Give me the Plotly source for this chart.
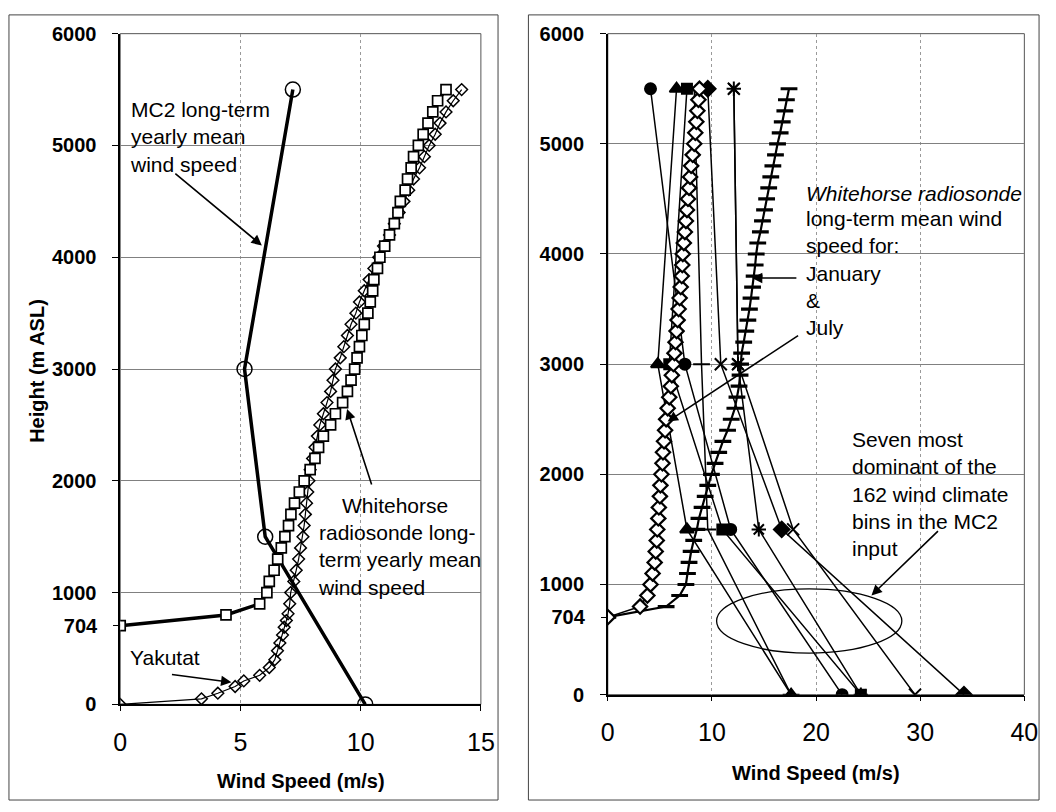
import plotly.graph_objects as go

W, H = 1056, 812
FONT = "Liberation Sans, Arial, sans-serif"

# ---------------- Left panel data ----------------
mc2_speed = [7.18, 5.17, 6.03, 10.19]
mc2_height = [5500, 3000, 1500, 0]

wh_height = [704, 800, 900, 1000, 1100, 1200, 1300, 1400, 1500, 1600, 1700, 1800, 1900,
             2000, 2100, 2200, 2300, 2400, 2500, 2600, 2700, 2800, 2900, 3000, 3100, 3200,
             3300, 3400, 3500, 3600, 3700, 3800, 3900, 4000, 4100, 4200, 4300, 4400, 4500,
             4600, 4700, 4800, 4900, 5000, 5100, 5200, 5300, 5400, 5500]
wh_year_speed = [0, 4.4, 5.8, 6.1, 6.2, 6.4, 6.55, 6.7, 6.85, 7.0, 7.1, 7.25, 7.45,
                 7.65, 7.9, 8.1, 8.25, 8.45, 8.75, 8.95, 9.25, 9.45, 9.6, 9.75, 9.85, 9.95,
                 10.05, 10.15, 10.3, 10.4, 10.5, 10.55, 10.7, 10.8, 11.0, 11.2, 11.4, 11.55, 11.65,
                 11.85, 11.95, 12.1, 12.2, 12.4, 12.6, 12.8, 13.0, 13.2, 13.55]

yak_height = [0, 50, 100, 160, 210, 260, 330, 400, 480, 550, 620, 690, 750, 810, 900,
              1000, 1100, 1200, 1300, 1400, 1500, 1600, 1700, 1800, 1900, 2000, 2100, 2200,
              2300, 2400, 2500, 2600, 2700, 2800, 2900, 3000, 3100, 3200, 3300, 3400, 3500,
              3600, 3700, 3800, 3900, 4000, 4100, 4200, 4300, 4400, 4500, 4600, 4700, 4800,
              4900, 5000, 5100, 5200, 5300, 5400, 5500]
yak_speed = [0, 3.38, 4.06, 4.78, 5.14, 5.8, 6.2, 6.43, 6.54, 6.64, 6.75, 6.82, 6.91, 6.98, 7.05,
             7.09, 7.22, 7.32, 7.42, 7.5, 7.6, 7.65, 7.7, 7.75, 7.8, 7.85, 7.9, 8.0,
             8.1, 8.2, 8.3, 8.45, 8.6, 8.75, 8.85, 8.95, 9.15, 9.3, 9.45, 9.6, 9.8,
             9.95, 10.15, 10.35, 10.55, 10.75, 10.95, 11.2, 11.4, 11.6, 11.8, 12.0, 12.2, 12.45,
             12.65, 12.85, 13.1, 13.3, 13.55, 13.85, 14.2]

# ---------------- Right panel data ----------------
jul_speed = [0, 3.1, 3.8, 4.1, 4.3, 4.5, 4.6, 4.7, 4.75, 4.85, 4.9, 5.0, 5.05,
             5.15, 5.25, 5.3, 5.4, 5.5, 5.6, 5.75, 5.9, 6.05, 6.15, 6.3, 6.4, 6.5,
             6.6, 6.7, 6.8, 6.9, 7.0, 7.1, 7.15, 7.2, 7.3, 7.4, 7.5, 7.6, 7.7,
             7.8, 7.9, 8.0, 8.15, 8.3, 8.4, 8.5, 8.6, 8.7, 8.8]
jan_speed = [0, 5.6, 6.9, 7.5, 7.65, 7.8, 8.0, 8.25, 8.55, 8.75, 9.05, 9.35, 9.6,
             9.95, 10.3, 10.65, 11.05, 11.5, 11.85, 12.2, 12.4, 12.6, 12.7, 12.75, 12.85, 13.05,
             13.25, 13.45, 13.6, 13.75, 13.9, 14.05, 14.15, 14.25, 14.4, 14.65, 14.85, 15.05, 15.25,
             15.45, 15.65, 15.85, 16.1, 16.3, 16.55, 16.75, 17.0, 17.15, 17.4]

bin_height = [5500, 3000, 1500, 0]
bin_circle = [4.1, 7.4, 11.8, 22.5]
bin_triangle = [6.6, 4.8, 7.6, 17.6]
bin_square = [7.6, 5.9, 11.0, 24.3]
bin_plus = [8.3, 9.0, 9.6, 17.6]
bin_diamond = [9.6, 10.85, 16.7, 34.2]
bin_x = [12.1, 12.5, 17.8, 29.5]
bin_star = [12.1, 12.5, 14.5, 24.3]

left_yticks = [0, 1000, 2000, 3000, 4000, 5000, 6000]
extra_ytick = [704]
left_xticks = [0, 5, 10, 15]
right_xticks = [0, 10, 20, 30, 40]


def px(x):
    return x / W


def py(y):
    return 1 - y / H


fig = go.Figure()

# ---- left panel traces ----
fig.add_trace(go.Scatter(
    x=yak_speed, y=yak_height, mode="lines+markers", xaxis="x", yaxis="y",
    line=dict(color="black", width=1.2),
    marker=dict(symbol="diamond-open", size=9, color="black", line=dict(width=1.5)),
    showlegend=False))
fig.add_trace(go.Scatter(
    x=wh_year_speed, y=wh_height, mode="lines+markers", xaxis="x", yaxis="y3",
    line=dict(color="black", width=3.5),
    marker=dict(symbol="square", size=10, color="white", line=dict(color="black", width=1.7)),
    showlegend=False))
fig.add_trace(go.Scatter(
    x=mc2_speed, y=mc2_height, mode="lines+markers", xaxis="x", yaxis="y",
    line=dict(color="black", width=3.5),
    marker=dict(symbol="circle-open", size=15, color="black", line=dict(width=1.5)),
    showlegend=False))

# ---- right panel traces ----
thin = dict(color="black", width=1.5)
bins = [
    (bin_circle, "circle", 11),
    (bin_triangle, "triangle-up", 12),
    (bin_square, "square", 10),
    (bin_plus, "line-ew-open", 12),
    (bin_diamond, ["diamond", "x-thin-open", "diamond", "diamond"], 12),
    (bin_x, "x-thin-open", 12),
    (bin_star, "asterisk-open", 12),
]
for vals, sym, size in bins:
    fig.add_trace(go.Scatter(
        x=vals, y=bin_height, mode="lines+markers", xaxis="x2", yaxis="y2",
        line=thin,
        marker=dict(symbol=sym, size=size, color="black", line=dict(color="black", width=2)),
        showlegend=False))

fig.add_trace(go.Scatter(
    x=jan_speed, y=wh_height, mode="lines+markers", xaxis="x2", yaxis="y2",
    line=dict(color="black", width=2.2),
    marker=dict(symbol="line-ew-open", size=12, color="black", line=dict(color="black", width=3.2)),
    showlegend=False))
fig.add_trace(go.Scatter(
    x=jul_speed, y=wh_height, mode="lines+markers", xaxis="x2", yaxis="y4",
    line=dict(color="black", width=1.5),
    marker=dict(symbol="diamond", size=11, color="white", line=dict(color="black", width=2.2)),
    showlegend=False))

# ---- axes ----
xdom1 = [px(115.5), px(483.5)]
ydom1 = [py(712.7), py(23.3)]
xdom2 = [px(613), px(1038)]
ydom2 = [py(702.7), py(23.3)]

ytickfont = dict(family=FONT, size=20, color="black", weight="bold")
xtickfont = dict(family=FONT, size=25, color="black")

common_x = dict(showline=True, linecolor="black", linewidth=1.5, ticks="outside", ticklen=5,
                tickcolor="black", showgrid=True, gridcolor="#9a9a9a", griddash="dot",
                gridwidth=1, zeroline=False, tickfont=xtickfont, ticklabelstandoff=10)
common_y = dict(range=[0, 6000], showline=True, linecolor="black", linewidth=1.5,
                ticks="outside", ticklen=6, tickcolor="black", showgrid=True,
                gridcolor="#808080", gridwidth=1, zeroline=False, tickfont=ytickfont,
                ticklabelstandoff=12)

fig.update_layout(
    xaxis=dict(domain=xdom1, range=[0, 15], tickvals=left_xticks, anchor="y", **common_x),
    yaxis=dict(domain=ydom1, tickvals=left_yticks, anchor="x", **common_y),
    yaxis3=dict(domain=ydom1, range=[0, 6000], overlaying="y", anchor="x", tickvals=extra_ytick,
                showgrid=False, zeroline=False, showline=False, ticks="outside", ticklen=6,
                tickcolor="black", tickfont=ytickfont, ticklabelstandoff=12),
    xaxis2=dict(domain=xdom2, range=[0, 40], tickvals=right_xticks, anchor="y2", **common_x),
    yaxis2=dict(domain=ydom2, tickvals=left_yticks, anchor="x2", **common_y),
    yaxis4=dict(domain=ydom2, range=[0, 6000], overlaying="y2", anchor="x2", tickvals=extra_ytick,
                showgrid=False, zeroline=False, showline=False, ticks="outside", ticklen=6,
                tickcolor="black", tickfont=ytickfont, ticklabelstandoff=12),
    width=W, height=H, margin=dict(l=0, r=0, t=0, b=0),
    paper_bgcolor="white", plot_bgcolor="white",
    font=dict(family=FONT, color="black"),
)

shapes = []
# plot area borders
for xr, yr in (("x domain", "y domain"), ("x2 domain", "y2 domain")):
    shapes.append(dict(type="rect", xref=xr, yref=yr, x0=0, x1=1, y0=0, y1=1,
                       line=dict(color="#555555", width=1), layer="below"))
# panel frames
shapes.append(dict(type="rect", xref="paper", yref="paper", x0=px(2), x1=px(501),
                   y0=py(811), y1=py(4), line=dict(color="#444444", width=1)))
shapes.append(dict(type="rect", xref="paper", yref="paper", x0=px(532), x1=px(1053),
                   y0=py(811), y1=py(4), line=dict(color="#444444", width=1)))
# ellipse
shapes.append(dict(type="circle", xref="paper", yref="paper", x0=px(724), x1=px(913),
                   y0=py(660), y1=py(594), line=dict(color="black", width=1.3)))
fig.update_layout(shapes=shapes)

annfont = dict(family=FONT, size=21, color="black")
titlefont = dict(family=FONT, size=20, color="black", weight="bold")
anns = []


def text(x, y, t, xanchor="left", yanchor="middle", font=annfont):
    anns.append(dict(xref="paper", yref="paper", x=px(x), y=py(y), text=t, showarrow=False,
                     xanchor=xanchor, yanchor=yanchor, align="left", font=font))


def arrow(hx, hy, tx, ty):
    anns.append(dict(xref="paper", yref="paper", x=px(hx), y=py(hy), text="", showarrow=True,
                     ax=tx - hx, ay=ty - hy, arrowhead=2, arrowsize=1.3, arrowwidth=1.6,
                     arrowcolor="black", standoff=0))


# axis titles
text(299.5, 791, "Wind Speed (m/s)", xanchor="center", font=titlefont)
text(825.5, 783, "Wind Speed (m/s)", xanchor="center", font=titlefont)
anns.append(dict(xref="paper", yref="paper", x=px(30.5), y=py(370), text="Height (m ASL)",
                 showarrow=False, textangle=-90, xanchor="center", yanchor="middle",
                 font=titlefont))

# left panel labels
text(123, 129.5, "MC2 long-term<br>yearly mean<br>wind speed")
arrow(260, 241, 172, 168)
text(396, 508.5, "Whitehorse", xanchor="center")
text(315, 564.5, "radiosonde long-<br>term yearly mean<br>wind speed")
arrow(347, 409, 372, 486)
text(123, 664, "Yakutat")
arrow(229, 690, 168, 682)

# right panel labels
text(813, 187.5, "<i>Whitehorse radiosonde</i>")
text(813, 269, "long-term mean wind<br>speed for:<br>January<br>&amp;<br>July")
arrow(760, 274.5, 806, 274.5)
arrow(674, 422, 806, 335)
text(860, 496, "Seven most<br>dominant of the<br>162 wind climate<br>bins in the MC2<br>input")
arrow(882, 600.7, 950, 535)

fig.update_layout(annotations=anns)

fig.write_html("out.html")
